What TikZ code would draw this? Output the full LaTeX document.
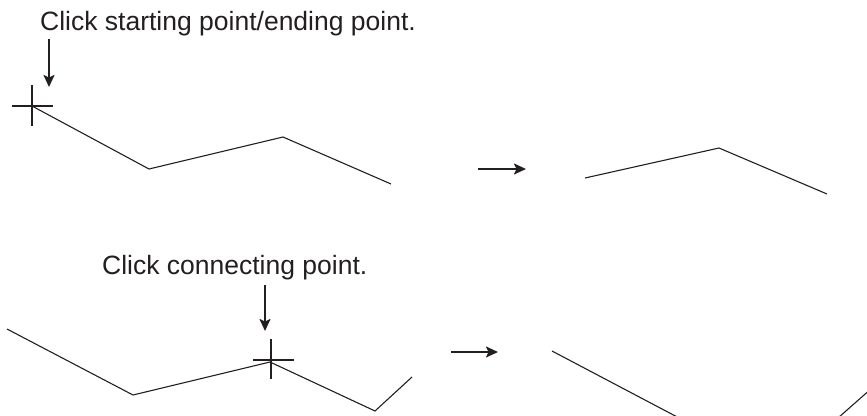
\documentclass[tikz,border=0pt]{standalone}
\usepackage{fontspec}
\setmainfont{Liberation Sans}
\usetikzlibrary{arrows.meta}
\definecolor{ink}{HTML}{231F20}
\begin{document}
\begin{tikzpicture}[x=1pt,y=-1pt,
  lbl/.style={font=\fontsize{26.5}{30}\selectfont, inner sep=0pt, anchor=base west, text=ink},
  edge/.style={line width=1.1pt, ink, line join=miter},
  crossmark/.style={line width=2.2pt, ink},
  pointer/.style={line width=2pt, ink, -{Stealth[length=12pt,width=11pt,inset=2.5pt]}},
  flow/.style={line width=2pt, ink, -{Stealth[length=12pt,width=11pt,inset=2.5pt]}}]
\useasboundingbox (0,0) rectangle (867,415);
% --- top row ---
\node[lbl] (t1) at (40,30) {Click starting point/ending point.};
\coordinate (a1s) at (49,39);
\coordinate (a1e) at (49,87);
\draw[pointer] (a1s) -- (a1e);
\coordinate (c1) at (32,106);
\draw[crossmark] (12,106) -- (53,106) (32,85) -- (32,126);
\coordinate (p1) at (149,169);
\coordinate (p2) at (283,137);
\coordinate (p3) at (391,184);
\draw[edge] (c1) -- (p1) -- (p2) -- (p3);
\coordinate (f1s) at (478,169);
\coordinate (f1e) at (526,169);
\draw[flow] (f1s) -- (f1e);
\coordinate (q1) at (585,178);
\coordinate (q2) at (719,148);
\coordinate (q3) at (827,194);
\draw[edge] (q1) -- (q2) -- (q3);
% --- bottom row ---
\node[lbl] (t2) at (102,274) {Click connecting point.};
\coordinate (a2s) at (265,285);
\coordinate (a2e) at (265,331);
\draw[pointer] (a2s) -- (a2e);
\coordinate (c2) at (270,362);
\draw[crossmark] (253,360) -- (294,360) (271,339) -- (271,379);
\coordinate (r1) at (7,329);
\coordinate (r2) at (133,395);
\coordinate (r4) at (375,411);
\coordinate (r5) at (412,377);
\draw[edge] (r1) -- (r2) -- (c2) -- (r4) -- (r5);
\coordinate (f2s) at (451,352);
\coordinate (f2e) at (498,352);
\draw[flow] (f2s) -- (f2e);
\begin{scope}
\clip (0,0) rectangle (867,415);
\coordinate (s1) at (552,351);
\coordinate (s2) at (700,429);
\coordinate (s3) at (830,425);
\coordinate (s4) at (872,388);
\draw[edge] (s1) -- (s2) -- (s3) -- (s4);
\end{scope}
\end{tikzpicture}
\end{document}
